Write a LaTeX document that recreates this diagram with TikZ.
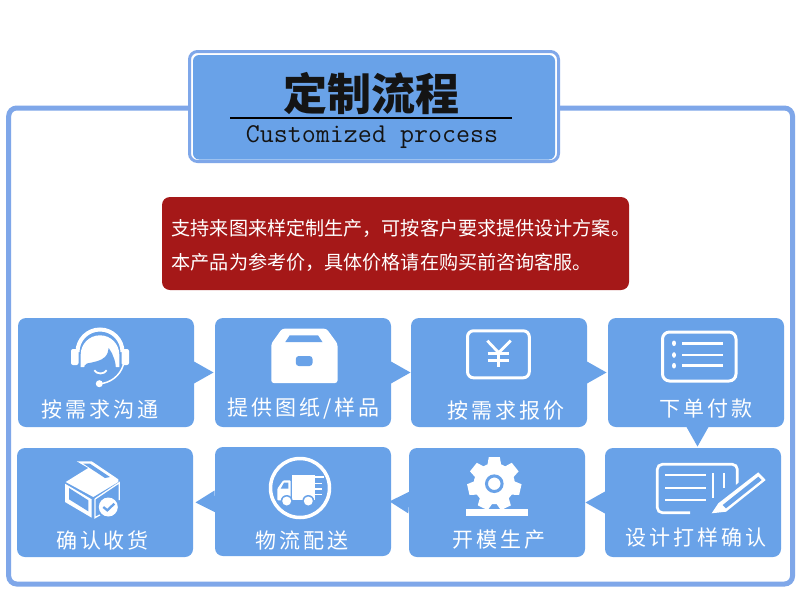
\documentclass[tikz,border=0pt]{standalone}
\usepackage{fontspec}
\usepackage{tikz}
\usetikzlibrary{calc,positioning}
\newfontfamily\cjk{Noto Sans CJK SC}
\newfontfamily\cjkspaced[LetterSpace=14]{Noto Sans CJK SC}
\definecolor{cardblue}{HTML}{69A2E8}
\definecolor{frameblue}{HTML}{7FA7E9}
\definecolor{notered}{HTML}{A51818}
\newcommand{\cardptr}[2]{\fill[cardblue] ($(#1)!11pt!90:(#2)$) -- ($(#1)!19.5pt!(#2)$) -- ($(#1)!11pt!-90:(#2)$) -- cycle;}
\begin{document}
\begin{tikzpicture}[
  x=1pt,y=1pt,
  card/.style={rectangle,rounded corners=8pt,fill=cardblue,minimum width=176pt,minimum height=109pt,inner sep=0pt,outer sep=0pt},
  cardlabel/.style={text=white,inner sep=0pt,font=\cjkspaced\fontsize{21}{21}\selectfont},
  frameline/.style={draw=frameblue,line width=5pt,rounded corners=8pt},
  ico/.style={fill=white,draw=none},
  hole/.style={fill=cardblue,draw=none},
  icoline/.style={draw=white,line width=2.2pt},
  node distance=21pt]
  \useasboundingbox[fill=white] (0,0) rectangle (800,-600);
  \coordinate (fa) at (8.7,-108);
  \coordinate (fb) at (792.5,-584);
  \draw[frameline] (fa) rectangle (fb);

  \node[rectangle,rounded corners=8pt,draw=frameblue,line width=3pt,fill=white,minimum width=369pt,minimum height=110pt,outer sep=0pt] (titleouter) at (374,-106.5) {};
  \node[rectangle,rounded corners=6pt,fill=cardblue,minimum width=362pt,minimum height=104.5pt,outer sep=0pt] (titlebox) at (374,-107.25) {};
  \node[inner sep=0pt,text=black!92,font=\cjk\bfseries\fontsize{44}{44}\selectfont] (titlecn) at (371.5,-94) {定制流程};
  \coordinate (ula) at (230,-118);
  \coordinate (ulb) at (512,-118);
  \draw[line width=2pt,black] (ula) -- (ulb);
  \node[anchor=base,inner sep=0pt,text=black!92,font=\ttfamily\fontsize{27.2}{27.2}\selectfont] (titleen) at (372,-142.5) {Customized process};

  \node[rectangle,rounded corners=8pt,fill=notered,minimum width=467pt,minimum height=93pt,outer sep=0pt] (note) at (395.5,-243.5) {};
  \node[anchor=west,inner sep=0pt,align=left,text=white,font=\cjk\fontsize{19.1}{34}\selectfont] (notetxt) at ([xshift=9.5pt,yshift=-1.5pt]note.west) {支持来图来样定制生产，可按客户要求提供设计方案。\\本产品为参考价，具体价格请在购买前咨询客服。};

  \node[card] (c1) at (106,-372.5) {};
  \node[card,right=of c1] (c2) {};
  \node[card,right=20pt of c2] (c3) {};
  \node[card,right=of c3] (c4) {};
  \node[card] (c5) at (693,-502.5) {};
  \node[card,left=20pt of c5] (c6) {};
  \node[card,left=18pt of c6,yshift=1pt] (c7) {};
  \node[card,left=22pt of c7,yshift=-1pt] (c8) {};

  \cardptr{c1.east}{c2.west}
  \cardptr{c2.east}{c3.west}
  \cardptr{c3.east}{c4.west}
  \coordinate (d4) at ([xshift=1.5pt]c4.south);
  \coordinate (d5) at (d4 |- c5.north);
  \cardptr{d4}{d5}
  \cardptr{c5.west}{c6.east}
  \cardptr{c6.west}{c7.east}
  \cardptr{c7.west}{c8.east}

  \node[cardlabel] (l1) at (100,-409) {按需求沟通};
  \node[cardlabel] (l2) at (303.5,-409) {提供图纸/样品};
  \node[cardlabel] (l3) at (506,-411) {按需求报价};
  \node[cardlabel] (l4) at (706,-409) {下单付款};
  \node[cardlabel] (l5) at (696,-538) {设计打样确认};
  \node[cardlabel] (l6) at (499,-540) {开模生产};
  \node[cardlabel] (l7) at (302,-541) {物流配送};
  \node[cardlabel] (l8) at (102.5,-540.5) {确认收货};

  \draw[icoline,line width=4pt] (77.5,-352) arc[start angle=180,end angle=0,radius=22.5];
  \fill[ico,rounded corners=2pt] (71,-349) rectangle (78.5,-365);
  \fill[ico,rounded corners=2pt] (121.5,-349) rectangle (129,-365);
  \fill[ico] (80.7,-367) -- (80.7,-354.6) arc[start angle=180,end angle=0,radius=19.3] -- (119.3,-367) -- cycle;
  \fill[hole] (84,-370) .. controls (84,-366) and (85,-364) .. (87,-363.5) .. controls (94,-362) and (101,-361) .. (105,-357) .. controls (108,-354) and (108,-351) .. (108.7,-348) .. controls (110,-351) and (112,-352) .. (113,-356) .. controls (115,-360) and (116.5,-366) .. (115.5,-372) .. controls (112,-378) and (106,-381) .. (100,-381) .. controls (93,-381) and (87,-377) .. (84,-370) -- cycle;
  \draw[icoline,line width=1.8pt] (94.3,-370.3) .. controls (97,-374.5) and (104,-374.5) .. (106.7,-370.3);
  \draw[icoline,line width=1.5pt] (123.3,-365) .. controls (120,-376) and (110,-383) .. (100,-383.7);
  \fill[ico] (99.3,-383.7) circle (3.5);

  \fill[ico,rounded corners=2.5pt] (282,-328.7) -- (326.5,-328.7) -- (337.5,-343.7) -- (337.5,-383) -- (271.3,-383) -- (271.3,-343.7) -- cycle;
  \fill[hole] (289.7,-335.3) -- (318,-335.3) -- (322.5,-342) -- (285.3,-342) -- cycle;
  \fill[hole,rounded corners=3pt] (295.8,-356) rectangle (312.5,-366);

  \draw[icoline,line width=3pt,rounded corners=6pt] (467.5,-330.8) rectangle (529.3,-377.8);
  \draw[icoline,line width=2.8pt] (487.3,-340.7) -- (498.7,-352.7) -- (510.7,-340.7);
  \draw[icoline,line width=2.8pt] (498.7,-352.7) -- (498.7,-366.7);
  \draw[icoline,line width=2.6pt] (487.7,-353.3) -- (509.3,-353.3);
  \draw[icoline,line width=2.6pt] (487.7,-360.7) -- (509.3,-360.7);

  \draw[icoline,line width=3pt,rounded corners=7pt] (662.5,-332) rectangle (736,-381);
  \fill[ico] (674,-343.3) ellipse (2 and 2.8);
  \fill[ico] (674,-355) ellipse (2 and 2.8);
  \fill[ico] (674,-365.7) ellipse (2 and 2.8);
  \draw[icoline,line width=2.5pt] (682.3,-343.3) -- (722.7,-343.3);
  \draw[icoline,line width=2.5pt] (682.3,-355) -- (722.7,-355);
  \draw[icoline,line width=2.5pt] (682.3,-365.7) -- (722.7,-365.7);

  \draw[icoline,line width=2.7pt,rounded corners=5pt] (737.3,-488.3) -- (737.3,-464.3) -- (657.3,-464.3) -- (657.3,-512.7) -- (690,-512.7);
  \draw[icoline] (665,-475) -- (706,-475);
  \draw[icoline] (665,-488.3) -- (706,-488.3);
  \draw[icoline] (665,-500) -- (706,-500);
  \draw[icoline] (713.3,-473.3) -- (713.3,-497.7);
  \draw[icoline] (724,-473.3) -- (724,-488.3);
  \fill[hole] (716,-501) -- (757,-468) -- (769,-481) -- (728,-515) -- cycle;
  \fill[ico] (711.7,-513.3) -- (718.3,-503.3) -- (758.3,-472.3) -- (765.7,-480) -- (726,-511.7) -- cycle;
  \fill[hole] (722.7,-505) -- (758.3,-476.7) -- (761.7,-480) -- (726,-508.3) -- cycle;

  \foreach \a in {0,51.43,102.86,154.29,205.71,257.14,308.57}
    \fill[ico,shift={(494.3,-483.7)},rotate=\a] (-7,18) -- (-5.5,26.7) -- (5.5,26.7) -- (7,18) -- cycle;
  \fill[ico] (494.3,-483.7) circle (20.5);
  \draw[draw=cardblue,line width=3pt,fill=white] (494.3,-483.7) circle (7.8);
  \fill[ico] (466,-508.7) rectangle (527.7,-516);

  \draw[icoline,line width=3.5pt] (300,-488) circle (29.5);
  \fill[ico] (292.3,-475.3) rectangle (315,-500.3);
  \fill[ico,rounded corners=1pt] (290.7,-480.3) -- (283.3,-480.3) -- (277.3,-488.7) -- (277.3,-500.3) -- (290.7,-500.3) -- cycle;
  \fill[hole] (284,-482.7) -- (288.3,-482.7) -- (288.3,-488.7) -- (280.7,-488.7) -- cycle;
  \draw[icoline,line width=1.2pt] (315,-477) -- (324,-477);
  \draw[icoline,line width=1.2pt] (315,-483.7) -- (322,-483.7);
  \draw[icoline,line width=1.2pt] (315,-489) -- (322,-489);
  \draw[icoline,line width=1.2pt] (315,-494.7) -- (322,-494.7);
  \fill[hole] (286.7,-501) circle (6);
  \fill[hole] (308.3,-501) circle (6);
  \fill[ico] (286.7,-501) circle (4.5);
  \fill[ico] (308.3,-501) circle (4.5);

  \fill[ico] (76.7,-461.3) -- (91.7,-461.3) -- (118.3,-479.3) -- (118.3,-482) -- (93.3,-497) -- (65.7,-482) -- (88.3,-468) -- cycle;
  \fill[hole] (83.3,-463.7) -- (90,-463.7) -- (110,-477) -- (105,-478) -- cycle;
  \fill[ico] (65,-483.7) -- (91.7,-499.3) -- (91.7,-517.7) -- (65,-502) -- cycle;
  \fill[hole] (69,-488) -- (88.3,-500.3) -- (88.3,-511.3) -- (69,-499.3) -- cycle;
  \draw[icoline,line width=1.3pt] (95,-499) -- (119.3,-482.7) -- (119.3,-500);
  \draw[icoline,line width=1.3pt] (95,-499) -- (95,-517.7) -- (105,-512);
  \fill[hole] (108.3,-507) circle (11.5);
  \fill[ico] (108.3,-507) circle (9.5);
  \draw[draw=cardblue,line width=2.3pt] (103.3,-507) -- (107.3,-510.3) -- (114.3,-503.7);
\end{tikzpicture}
\end{document}
